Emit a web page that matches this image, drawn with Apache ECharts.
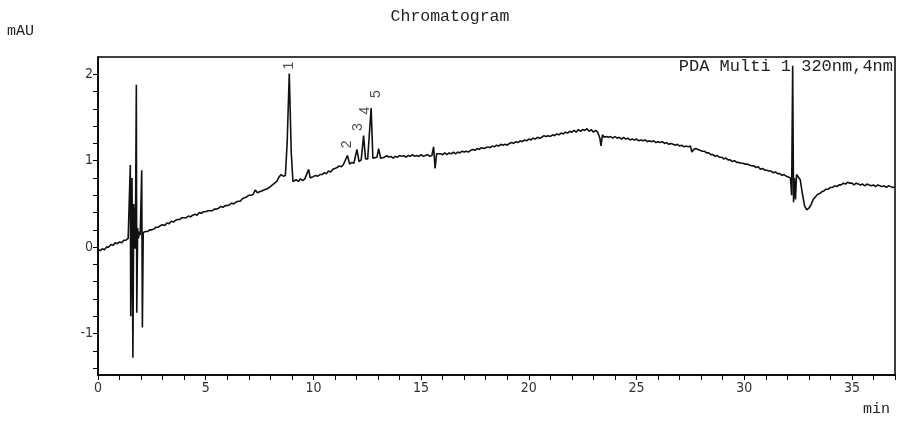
<!DOCTYPE html>
<html>
<head>
<meta charset="utf-8">
<script src="https://cdn.jsdelivr.net/npm/echarts@6/dist/echarts.min.js"></script>
<style>html,body{margin:0;padding:0;background:#fff;}#c{width:900px;height:421px;}</style>
</head>
<body>
<div id="c"></div>
<script>
// chromatogram trace: [retention time (min), absorbance (mAU)]
var tracePoints = [
[0.0,-0.03],[0.1,-0.04],[0.2,-0.02],[0.3,-0.03],[0.4,0.00],[0.5,0.00],[0.6,0.03],[0.7,0.02],[0.8,0.05],[0.9,0.04],
[1.0,0.06],[1.1,0.05],[1.2,0.08],[1.3,0.08],[1.4,0.10],
[1.46,0.12],[1.50,0.95],[1.52,-0.80],[1.58,0.80],[1.62,-1.28],[1.66,0.50],[1.68,0.05],[1.70,0.45],[1.72,-0.02],[1.74,0.30],
[1.78,1.88],[1.80,-0.76],[1.84,0.22],[1.88,0.10],[1.92,0.18],[1.96,0.14],[2.03,0.89],[2.06,-0.93],[2.10,0.17],
[2.2,0.18],[2.3,0.18],[2.4,0.20],[2.5,0.20],[2.6,0.21],[2.7,0.23],[2.8,0.23],[2.9,0.25],[3.0,0.26],[3.1,0.25],
[3.2,0.28],[3.3,0.27],[3.4,0.30],[3.5,0.29],[3.6,0.31],[3.7,0.32],[3.8,0.32],[3.9,0.34],[4.0,0.34],[4.1,0.34],
[4.2,0.36],[4.3,0.35],[4.4,0.37],[4.5,0.38],[4.6,0.37],[4.7,0.40],[4.8,0.39],[4.9,0.41],[5.0,0.41],[5.1,0.42],
[5.2,0.42],[5.3,0.42],[5.4,0.44],[5.5,0.44],[5.6,0.45],[5.7,0.47],[5.8,0.46],[5.9,0.48],[6.0,0.48],[6.1,0.49],
[6.2,0.51],[6.3,0.50],[6.4,0.52],[6.5,0.53],[6.6,0.53],[6.7,0.56],[6.8,0.57],[6.9,0.58],[7.0,0.60],[7.1,0.60],
[7.2,0.61],[7.3,0.66],[7.4,0.63],[7.5,0.64],[7.6,0.65],[7.7,0.66],[7.8,0.67],[7.9,0.68],[8.0,0.70],[8.1,0.72],
[8.2,0.74],[8.3,0.76],[8.4,0.81],[8.5,0.84],[8.6,0.82],[8.7,0.83],
[8.78,1.20],[8.88,2.01],[8.97,1.10],[9.05,0.76],
[9.1,0.74],[9.2,0.78],[9.3,0.76],[9.4,0.79],[9.5,0.77],[9.6,0.79],[9.68,0.80],[9.78,0.90],[9.85,0.80],[9.95,0.81],
[10.0,0.80],[10.1,0.83],[10.2,0.82],[10.3,0.84],[10.4,0.84],[10.5,0.86],[10.6,0.85],[10.7,0.88],[10.8,0.87],[10.9,0.90],
[11.0,0.91],[11.1,0.92],[11.2,0.94],[11.3,0.93],[11.4,0.96],[11.48,0.95],[11.58,1.06],[11.68,0.96],[11.78,0.98],[11.88,0.97],
[12.02,1.13],[12.12,0.99],[12.22,1.01],[12.33,1.29],[12.42,1.02],[12.52,1.02],[12.58,1.03],[12.68,1.61],[12.76,1.03],[12.85,1.05],
[12.95,1.04],[13.03,1.14],[13.12,1.03],[13.2,1.05],[13.3,1.04],[13.4,1.06],[13.5,1.04],[13.6,1.05],[13.7,1.03],[13.8,1.05],
[13.9,1.04],[14.0,1.06],[14.1,1.05],[14.2,1.06],[14.3,1.04],[14.4,1.06],[14.5,1.05],[14.6,1.07],[14.7,1.05],[14.8,1.06],
[14.9,1.05],[15.0,1.07],[15.1,1.05],[15.2,1.06],[15.3,1.07],[15.4,1.05],[15.5,1.06],[15.58,1.16],[15.65,0.91],[15.72,1.08],
[15.8,1.06],[15.9,1.08],[16.0,1.07],[16.1,1.09],[16.2,1.07],[16.3,1.09],[16.4,1.08],[16.5,1.10],[16.6,1.08],[16.7,1.10],
[16.8,1.09],[16.9,1.11],[17.0,1.10],[17.1,1.11],[17.2,1.10],[17.3,1.12],[17.4,1.13],[17.5,1.12],[17.6,1.14],[17.7,1.13],
[17.8,1.15],[17.9,1.14],[18.0,1.15],[18.1,1.16],[18.2,1.15],[18.3,1.17],[18.4,1.16],[18.5,1.18],[18.6,1.17],[18.7,1.19],
[18.8,1.18],[18.9,1.19],[19.0,1.18],[19.1,1.20],[19.2,1.21],[19.3,1.20],[19.4,1.22],[19.5,1.21],[19.6,1.23],[19.7,1.22],
[19.8,1.24],[19.9,1.23],[20.0,1.25],[20.1,1.24],[20.2,1.26],[20.3,1.25],[20.4,1.27],[20.5,1.26],[20.6,1.27],[20.7,1.29],
[20.8,1.28],[20.9,1.29],[21.0,1.28],[21.1,1.30],[21.2,1.29],[21.3,1.31],[21.4,1.30],[21.5,1.32],[21.6,1.31],[21.7,1.33],
[21.8,1.32],[21.9,1.34],[22.0,1.33],[22.1,1.35],[22.2,1.33],[22.3,1.36],[22.4,1.34],[22.5,1.36],[22.6,1.35],[22.7,1.37],
[22.8,1.34],[22.9,1.36],[23.0,1.33],[23.1,1.35],[23.2,1.33],[23.3,1.26],[23.35,1.17],[23.42,1.30],[23.5,1.27],[23.6,1.28],
[23.7,1.27],[23.8,1.28],[23.9,1.26],[24.0,1.28],[24.1,1.26],[24.2,1.27],[24.3,1.25],[24.4,1.27],[24.5,1.25],[24.6,1.26],
[24.7,1.24],[24.8,1.25],[24.9,1.24],[25.0,1.25],[25.1,1.23],[25.2,1.24],[25.3,1.23],[25.4,1.24],[25.5,1.22],[25.6,1.23],
[25.7,1.22],[25.8,1.23],[25.9,1.21],[26.0,1.22],[26.1,1.21],[26.2,1.22],[26.3,1.20],[26.4,1.21],[26.5,1.19],[26.6,1.20],
[26.7,1.19],[26.8,1.18],[26.9,1.19],[27.0,1.17],[27.1,1.18],[27.2,1.16],[27.3,1.17],[27.4,1.16],[27.5,1.17],[27.57,1.10],
[27.65,1.13],[27.75,1.14],[27.85,1.13],[27.95,1.12],[28.05,1.11],[28.15,1.11],[28.25,1.09],[28.35,1.09],[28.45,1.07],[28.55,1.07],
[28.65,1.05],[28.75,1.06],[28.85,1.04],[28.95,1.04],[29.05,1.02],[29.15,1.03],[29.25,1.01],[29.35,1.01],[29.45,0.99],[29.55,1.00],
[29.65,0.98],[29.75,0.98],[29.85,0.97],[29.95,0.97],[30.05,0.96],[30.15,0.96],[30.25,0.95],[30.35,0.94],[30.45,0.94],[30.55,0.92],
[30.65,0.93],[30.75,0.90],[30.85,0.91],[30.95,0.89],[31.05,0.89],[31.15,0.88],[31.25,0.88],[31.35,0.86],[31.45,0.87],[31.55,0.85],
[31.65,0.85],[31.75,0.83],[31.85,0.84],[31.95,0.82],[32.05,0.81],[32.15,0.80],
[32.2,0.60],[32.25,2.10],[32.29,0.52],[32.33,0.80],[32.38,0.55],[32.43,0.84],[32.5,0.83],
[32.6,0.78],[32.7,0.62],[32.8,0.48],[32.9,0.43],[33.0,0.45],[33.1,0.49],[33.2,0.55],[33.3,0.58],[33.4,0.61],[33.5,0.62],
[33.6,0.64],[33.7,0.65],[33.8,0.67],[33.9,0.67],[34.0,0.69],[34.1,0.69],[34.2,0.71],[34.3,0.70],[34.4,0.72],[34.5,0.72],
[34.6,0.74],[34.7,0.73],[34.8,0.75],[34.9,0.74],[35.0,0.74],[35.1,0.72],[35.2,0.74],[35.3,0.73],[35.4,0.72],[35.5,0.73],
[35.6,0.71],[35.7,0.73],[35.8,0.72],[35.9,0.71],[36.0,0.72],[36.1,0.70],[36.2,0.72],[36.3,0.71],[36.4,0.70],[36.5,0.71],
[36.6,0.69],[36.7,0.71],[36.8,0.70],[36.9,0.69],[37.0,0.70]
];
// peak number labels
var peakNames = ["1","2","3","4","5"];
var peakLabelX = [8.88, 11.56, 12.08, 12.42, 12.92];
var peakLabelY = [2.10, 1.19, 1.39, 1.58, 1.77];
// axis ticks
var xTicks = [0,1,2,3,4,5,6,7,8,9,10,11,12,13,14,15,16,17,18,19,20,21,22,23,24,25,26,27,28,29,30,31,32,33,34,35,36,37];
var xLabels = [0,5,10,15,20,25,30,35];
var yTicks = [-1.4,-1.2,-1.0,-0.8,-0.6,-0.4,-0.2,0,0.2,0.4,0.6,0.8,1.0,1.2,1.4,1.6,1.8,2.0];
var yLabels = [-1,0,1,2];

var labelData = peakNames.map(function(n, i){ return {value:[peakLabelX[i], peakLabelY[i]], name:n}; });

var mono = "'Liberation Mono','Courier New',monospace";
var narrow = "'Liberation Sans Narrow','DejaVu Sans Condensed','Liberation Sans',sans-serif";

var chart = echarts.init(document.getElementById('c'), null, {renderer:'canvas'});
chart.setOption({
  animation: false,
  backgroundColor: '#fff',
  title: {
    text: 'Chromatogram', left: 'center', top: 3,
    textStyle: {fontFamily: mono, fontSize: 16.5, fontWeight: 'normal', color: '#222'}
  },
  graphic: [
    {type:'text', left: 7, top: 24, style:{text:'mAU', font: "15px " + mono, fill:'#222'}},
    {type:'text', right: 10, top: 402, style:{text:'min', font: "15px " + mono, fill:'#222'}},
    {type:'text', right: 7, top: 58, style:{text:'PDA Multi 1 320nm,4nm', font: "17px " + mono, fill:'#222'}}
  ],
  grid: {left: 98, right: 5, top: 57, bottom: 46, show: true, borderColor: '#000', borderWidth: 1.5},
  xAxis: {
    type: 'value', min: 0, max: 37,
    axisLine: {onZero: false, lineStyle: {color: '#000', width: 1.5}},
    axisTick: {show: true, customValues: xTicks, length: 5, lineStyle: {color: '#000'}},
    axisLabel: {customValues: xLabels, color: '#333', fontFamily: narrow, fontSize: 14, margin: 6},
    splitLine: {show: false}
  },
  yAxis: {
    type: 'value', min: -1.48, max: 2.2,
    axisLine: {show: true, onZero: false, lineStyle: {color: '#000', width: 1.5}},
    axisTick: {show: true, customValues: yTicks, length: 5, lineStyle: {color: '#000'}},
    axisLabel: {customValues: yLabels, color: '#333', fontFamily: narrow, fontSize: 14, margin: 5},
    splitLine: {show: false}
  },
  series: [
    {
      type: 'line', data: tracePoints, showSymbol: false, symbol: 'none',
      lineStyle: {color: '#111', width: 1.6}, z: 3
    },
    {
      type: 'scatter', data: labelData, symbolSize: 0, z: 4,
      label: {show: true, position: 'inside', rotate: 90, formatter: '{b}',
        color: '#222', fontFamily: "'Liberation Sans',Arial,sans-serif", fontSize: 14}
    }
  ]
});
</script>
</body>
</html>
